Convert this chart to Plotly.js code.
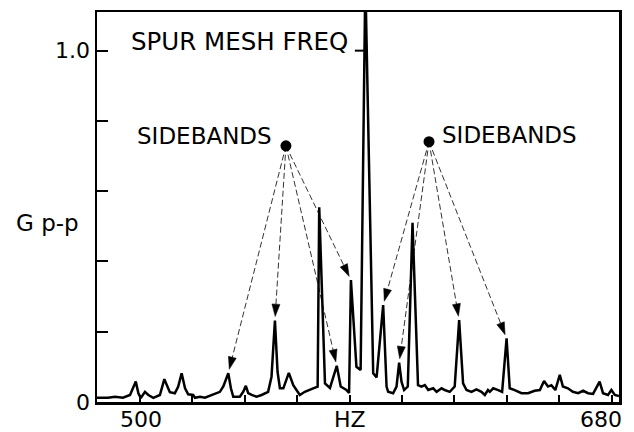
<!DOCTYPE html>
<html>
<head>
<meta charset="utf-8">
<script src="https://cdn.plot.ly/plotly-3.0.1.min.js"></script>
<style>html,body{margin:0;padding:0;background:#fff;}</style>
</head>
<body>
<div id="chart" style="width:634px;height:432px;"></div>
<script>
// Spectrum (frequency in Hz, amplitude in G p-p)
const freq = [483.6,487.8,490.5,493.5,496.2,498.4,499.4,500.3,501.9,503.2,505.1,507.6,509.3,510.6,511.4,513.3,514.6,515.9,517.2,518.4,520.3,521.0,522.9,524.8,526.7,528.6,530.5,531.8,532.6,533.7,534.7,535.6,538.1,539.4,540.4,541.3,542.6,544.5,546.4,548.9,550.2,551.5,552.5,553.4,554.7,556.8,558.5,559.8,561.0,562.9,564.2,566.1,567.8,568.4,570.6,572.5,575.1,576.6,578.8,579.8,580.5,582.6,584.2,586.0,589.0,590.3,592.8,594.1,594.7,596.6,597.9,598.9,599.8,600.8,602.2,604.0,606.1,607.4,608.7,610.0,611.9,613.2,615.1,616.3,618.2,620.1,621.8,623.3,624.6,626.5,628.4,630.3,631.6,632.8,633.5,634.8,636.7,638.2,639.9,641.1,643.0,645.6,648.1,650.6,652.6,654.2,655.7,657.0,658.5,660.2,661.4,663.3,665.2,667.2,669.1,671.0,672.9,675.4,676.7,678.6,679.9,681.2,682.8];
const amp = [0.012,0.012,0.015,0.012,0.020,0.058,0.025,0.011,0.029,0.020,0.012,0.020,0.065,0.044,0.028,0.025,0.044,0.082,0.039,0.022,0.020,0.012,0.015,0.012,0.018,0.022,0.029,0.044,0.058,0.082,0.039,0.015,0.015,0.029,0.046,0.025,0.020,0.015,0.020,0.029,0.072,0.232,0.086,0.039,0.039,0.083,0.048,0.034,0.020,0.029,0.034,0.039,0.044,0.554,0.053,0.040,0.103,0.044,0.034,0.026,0.347,0.100,0.091,1.200,0.082,0.070,0.276,0.044,0.029,0.025,0.044,0.112,0.058,0.034,0.044,0.510,0.048,0.044,0.048,0.034,0.039,0.029,0.039,0.034,0.029,0.044,0.233,0.053,0.034,0.029,0.036,0.029,0.020,0.034,0.029,0.039,0.034,0.029,0.181,0.039,0.034,0.025,0.025,0.032,0.034,0.060,0.044,0.048,0.034,0.077,0.044,0.039,0.029,0.025,0.032,0.025,0.023,0.058,0.025,0.020,0.034,0.020,0.017];

// Sideband peaks pointed at from each label dot
const leftSidebands = [533.7, 551.5, 575.1, 580.5];
const rightSidebands = [592.8, 598.9, 621.8, 639.9];
const spurFreq = 586.0;

// Axis ticks (only the end values are labelled)
const xTickVals = [500,520,540,560,580,600,620,640,660,680];
const xEndLabels = ['500','680'];
const yTickVals = [0,0.2,0.4,0.6,0.8,1.0];
const yTickText = ['0','','','','','1.0'];

// Label dots
const leftDot = {f:555.7, v:0.729};
const rightDot = {f:610.3, v:0.741};

const PXF = 2.622, PXV = 351.4; // approx px per unit for offsetting arrow tips
function ampAt(f){
  let best = 0;
  for (let i=0;i<freq.length;i++) if (Math.abs(freq[i]-f) < Math.abs(freq[best]-f)) best = i;
  return amp[best];
}
function tipFor(dot, pf){
  const pv = ampAt(pf);
  const dx = (dot.f - pf)*PXF, dy = (dot.v - pv)*PXV;
  const len = Math.hypot(dx, dy), g = 4;
  return {f: pf + dx/len*g/PXF, v: pv + dy/len*g/PXV};
}

const traces = [];
function addArrows(dot, list){
  list.forEach(pf => {
    const t = tipFor(dot, pf);
    traces.push({
      x:[dot.f, t.f], y:[dot.v, t.v], type:'scatter', mode:'lines+markers',
      line:{color:'#333', width:1, dash:'6px,3px'},
      marker:{symbol:['circle','arrow'], size:[0,13], angleref:'previous', color:'#000', opacity:1, line:{width:0.5, color:'#000'}},
      hoverinfo:'skip'
    });
  });
}
addArrows(leftDot, leftSidebands);
addArrows(rightDot, rightSidebands);
traces.push({x:[leftDot.f, rightDot.f], y:[leftDot.v, rightDot.v], type:'scatter', mode:'markers',
  marker:{symbol:'circle', size:11, color:'black'}, hoverinfo:'skip'});
traces.push({x:freq, y:amp, type:'scatter', mode:'lines', line:{color:'black', width:2.5}, hoverinfo:'skip'});

const F = 'DejaVu Sans, Liberation Sans, Arial, sans-serif';
const labelY = -0.0436;
const layout = {
  width:634, height:432,
  margin:{l:97, r:15, t:12, b:30},
  paper_bgcolor:'white', plot_bgcolor:'white',
  showlegend:false,
  font:{family:F, size:22, color:'black'},
  xaxis:{range:[483.6,682.8], showgrid:false, zeroline:false, showline:true, mirror:true,
    linecolor:'black', linewidth:2.5, ticks:'inside', ticklen:7, tickwidth:2, tickcolor:'black',
    tickmode:'array', tickvals:xTickVals, showticklabels:false},
  yaxis:{range:[0,1.11], showgrid:false, zeroline:false, showline:true, mirror:true,
    linecolor:'black', linewidth:2.5, ticks:'inside', ticklen:11, tickwidth:2, tickcolor:'black',
    tickmode:'array', tickvals:yTickVals, ticktext:yTickText, tickfont:{family:F, size:22, color:'black'}},
  shapes:[{type:'line', xref:'x', yref:'y', x0:spurFreq-4, x1:spurFreq, y0:1.0, y1:1.0, line:{color:'black', width:2}}],
  annotations:[
    {text:'SPUR MESH FREQ', x:538.0, y:1.027, xref:'x', yref:'y', showarrow:false, xanchor:'center', yanchor:'middle', font:{family:F, size:24.5, color:'black'}},
    {text:'SIDEBANDS', x:524.6, y:0.757, xref:'x', yref:'y', showarrow:false, xanchor:'center', yanchor:'middle', font:{family:F, size:23, color:'black'}},
    {text:'SIDEBANDS', x:640.9, y:0.761, xref:'x', yref:'y', showarrow:false, xanchor:'center', yanchor:'middle', font:{family:F, size:23, color:'black'}},
    {text:xEndLabels[0], x:500.3, y:labelY, xref:'x', yref:'paper', showarrow:false, xanchor:'center', yanchor:'middle', font:{family:F, size:22, color:'black'}},
    {text:'HZ', x:580.1, y:labelY, xref:'x', yref:'paper', showarrow:false, xanchor:'center', yanchor:'middle', font:{family:F, size:22, color:'black'}},
    {text:xEndLabels[1], x:675.8, y:labelY, xref:'x', yref:'paper', showarrow:false, xanchor:'center', yanchor:'middle', font:{family:F, size:22, color:'black'}},
    {text:'G p-p', x:-0.0948, y:0.459, xref:'paper', yref:'paper', showarrow:false, xanchor:'center', yanchor:'middle', font:{family:F, size:23, color:'black'}}
  ]
};
Plotly.newPlot('chart', traces, layout, {displayModeBar:false, staticPlot:true});
</script>
</body>
</html>
